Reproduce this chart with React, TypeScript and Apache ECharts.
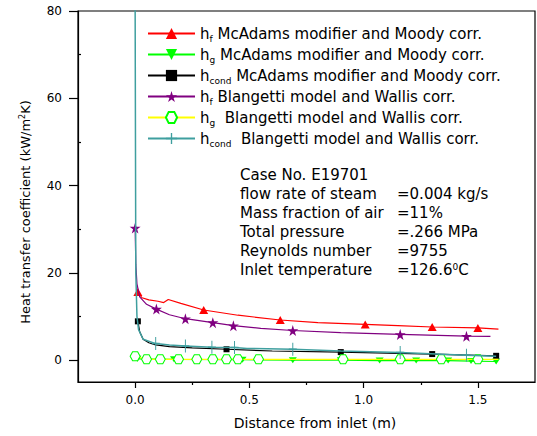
import React, { useEffect, useRef } from 'react';
import * as echarts from 'echarts';

const FONT = "'DejaVu Sans', 'Liberation Sans', sans-serif";

// [x (m), h (kW/m2K), marker shown (1) or not (0)]
const hfMcAdams: number[][] = [
  [0.012, 15.6, 1], [0.03, 14.3, 0], [0.06, 13.8, 0], [0.1, 13.5, 0], [0.125, 13.2, 0],
  [0.145, 13.9, 0], [0.2, 13.0, 0], [0.3, 11.5, 1], [0.45, 10.3, 0], [0.635, 9.2, 1],
  [0.8, 8.6, 0], [1.007, 8.2, 1], [1.15, 7.9, 0], [1.3, 7.6, 1], [1.5, 7.4, 1], [1.59, 7.1, 0],
];
const hgMcAdams: number[][] = [
  [0.01, 0.3, 1], [0.17, 0.2, 1], [0.47, 0.1, 1], [0.69, 0.0, 1], [0.9, 0.0, 1],
  [1.07, -0.1, 1], [1.23, -0.1, 1], [1.37, -0.1, 1], [1.47, -0.2, 1], [1.58, -0.3, 1],
];
const hcondMcAdams: number[][] = [
  [0.012, 8.9, 1], [0.02, 6.5, 0], [0.035, 4.8, 0], [0.06, 4.0, 0], [0.09, 3.5, 0],
  [0.15, 3.1, 0], [0.25, 2.8, 0], [0.4, 2.5, 1], [0.6, 2.1, 0], [0.9, 1.85, 1],
  [1.1, 1.6, 0], [1.3, 1.4, 1], [1.58, 1.0, 1],
];
const hfBlangetti: number[][] = [
  [0, 30.3, 1], [0.003, 22, 0], [0.008, 17.5, 0], [0.02, 14.5, 0], [0.05, 12.8, 0],
  [0.093, 11.7, 1], [0.15, 10.4, 0], [0.22, 9.5, 1], [0.34, 8.6, 1], [0.43, 7.9, 1],
  [0.55, 7.3, 0], [0.69, 6.8, 1], [0.9, 6.3, 0], [1.16, 5.9, 1], [1.45, 5.5, 1], [1.555, 5.45, 0],
];
const hgBlangetti: number[][] = [
  [0, 0.9, 1], [0.05, 0.2, 1], [0.11, 0.2, 1], [0.19, 0.2, 1], [0.27, 0.2, 1],
  [0.34, 0.2, 1], [0.4, 0.2, 1], [0.45, 0.2, 1], [0.54, 0.2, 1], [0.91, 0.2, 1],
  [1.16, 0.2, 1], [1.34, 0.2, 1], [1.5, 0.2, 1], [1.59, 0.2, 0],
];
const hcondBlangetti: number[][] = [
  [0, 82, 0], [0.003, 20, 0], [0.008, 10, 0], [0.015, 7, 0], [0.035, 4.8, 0],
  [0.09, 3.8, 1], [0.15, 3.5, 0], [0.22, 3.25, 1], [0.336, 2.95, 1], [0.435, 2.9, 1],
  [0.49, 2.7, 0], [0.69, 2.5, 1], [0.9, 2.1, 0], [1.16, 1.75, 1], [1.45, 1.15, 1], [1.58, 0.9, 0],
];

const legendSubs = ['f', 'g', 'cond', 'f', 'g', 'cond'];
const legendRests = [
  ' McAdams modifier and Moody corr.',
  ' McAdams modifier and Moody corr.',
  ' McAdams modifier and Moody corr.',
  ' Blangetti model and Wallis corr.',
  '  Blangetti model and Wallis corr.',
  '  Blangetti model and Wallis corr.',
];
const seriesNames = legendSubs.map((s, i) => 'h' + s + legendRests[i]);

const X_MIN = -0.25;
const X_MAX = 1.75;
const Y_MIN = -5;
const Y_MAX = 80;
const xMajorTicks = [0, 0.5, 1.0, 1.5];
const xMinorTicks = [0.25, 0.75, 1.25];
const yMajorTicks = [0, 20, 40, 60, 80];
const yMinorTicks = [10, 30, 50, 70];

const noteLabels = [
  'Case No. E19701',
  'flow rate of steam',
  'Mass fraction of air',
  'Total pressure',
  'Reynolds number',
  'Inlet temperature',
];
const noteValues = ['', '=0.004 kg/s', '=11%', '=.266 MPa', '=9755', '=126.6{sup|0}C'];

const STAR = 'path://M50 0 L61 35 L98 35 L68 57 L79 91 L50 70 L21 91 L32 57 L2 35 L39 35 Z';
const HEX = 'path://M25 0 L75 0 L100 43 L75 86 L25 86 L0 43 Z';
const PLUS = 'path://M44 0 H56 V44 H100 V56 H56 V100 H44 V56 H0 V44 H44 Z';

function toData(pts: number[][]) {
  return pts.map(([x, y, m]) => (m ? { value: [x, y] } : { value: [x, y], symbol: 'none' }));
}

export default function App() {
  const ref = useRef<HTMLDivElement>(null);
  useEffect(() => {
    if (!ref.current) return;
    const chart = echarts.init(ref.current, undefined, { renderer: 'svg' });
    const baseSeries = (
      idx: number,
      pts: number[][],
      lineColor: string,
      symbol: string,
      symbolSize: any,
      itemStyle: any,
      extra: any = {}
    ) => ({
      type: 'line',
      name: seriesNames[idx],
      data: toData(pts),
      symbol,
      symbolSize,
      showSymbol: true,
      lineStyle: { color: lineColor, width: 1.2 },
      itemStyle,
      z: 2 + idx,
      ...extra,
    });
    const graphics: any[] = [
      {
        type: 'text',
        x: 25,
        y: 212,
        rotation: Math.PI / 2,
        style: {
          text: 'Heat transfer coefficient (kW/m{sup|2}K)',
          fontFamily: FONT,
          fontSize: 13,
          fill: '#000',
          align: 'center',
          verticalAlign: 'middle',
          rich: { sup: { fontFamily: FONT, fontSize: 8, lineHeight: 8, verticalAlign: 'top', fill: '#000' } },
        },
      },
      {
        type: 'text',
        x: 315,
        y: 423,
        style: {
          text: 'Distance from inlet (m)',
          fontFamily: FONT,
          fontSize: 14,
          fill: '#000',
          align: 'center',
          verticalAlign: 'middle',
        },
      },
      ...noteLabels.map((t, i) => ({
        type: 'text',
        x: 240,
        y: 175 + i * 19,
        style: { text: t, fontFamily: FONT, fontSize: 15, fill: '#000', align: 'left', verticalAlign: 'middle' },
      })),
      ...noteValues
        .map((t, i) => ({ t, i }))
        .filter((o) => o.t)
        .map(({ t, i }) => ({
          type: 'text',
          x: 397,
          y: 175 + i * 19,
          style: {
            text: t,
            fontFamily: FONT,
            fontSize: 15,
            fill: '#000',
            align: 'left',
            verticalAlign: 'middle',
            rich: { sup: { fontFamily: FONT, fontSize: 9, lineHeight: 8, verticalAlign: 'top', fill: '#000' } },
          },
        })),
    ];
    const option: any = {
      animation: false,
      backgroundColor: '#fff',
      grid: { left: 78, right: 2, top: 11, bottom: 54, containLabel: false, show: true, borderColor: '#000', borderWidth: 1.2 },
      xAxis: [
        {
          type: 'value',
          min: X_MIN,
          max: X_MAX,
          axisLine: { show: true, onZero: false, lineStyle: { color: '#000', width: 1.2 } },
          axisTick: { show: true, length: 6, customValues: xMajorTicks, lineStyle: { color: '#000', width: 1.2 } },
          axisLabel: {
            customValues: xMajorTicks,
            formatter: (v: number) => v.toFixed(1),
            color: '#000',
            fontFamily: FONT,
            fontSize: 12,
            margin: 12,
          },
          splitLine: { show: false },
        },
        {
          type: 'value',
          min: X_MIN,
          max: X_MAX,
          position: 'bottom',
          axisLine: { show: false, onZero: false },
          axisTick: { show: true, length: 3, customValues: xMinorTicks, lineStyle: { color: '#000', width: 1.2 } },
          axisLabel: { show: false },
          splitLine: { show: false },
        },
      ],
      yAxis: [
        {
          type: 'value',
          min: Y_MIN,
          max: Y_MAX,
          axisLine: { show: true, onZero: false, lineStyle: { color: '#000', width: 1.2 } },
          axisTick: { show: true, length: 9, customValues: yMajorTicks, lineStyle: { color: '#000', width: 1.2 } },
          axisLabel: {
            customValues: yMajorTicks,
            color: '#000',
            fontFamily: FONT,
            fontSize: 12,
            margin: 16,
          },
          splitLine: { show: false },
        },
        {
          type: 'value',
          min: Y_MIN,
          max: Y_MAX,
          position: 'left',
          axisLine: { show: false, onZero: false },
          axisTick: { show: true, inside: true, length: 3, customValues: yMinorTicks, lineStyle: { color: '#000', width: 1.2 } },
          axisLabel: { show: false },
          splitLine: { show: false },
        },
      ],
      legend: {
        orient: 'vertical',
        left: 147,
        top: 26,
        padding: 0,
        itemGap: 3.5,
        itemWidth: 47,
        itemHeight: 14,
        selectedMode: false,
        data: seriesNames,
        formatter: (name: string) => {
          const i = seriesNames.indexOf(name);
          return '{m|h}{s|' + legendSubs[i] + '}{m|' + legendRests[i] + '}';
        },
        textStyle: {
          color: '#000',
          fontFamily: FONT,
          fontSize: 15,
          rich: {
            m: { fontFamily: FONT, fontSize: 15, lineHeight: 20, color: '#000' },
            s: { fontFamily: FONT, fontSize: 9, lineHeight: 8, verticalAlign: 'bottom', color: '#000' },
          },
        },
      },
      series: [
        baseSeries(0, hfMcAdams, '#ff0000', 'triangle', [9, 8], { color: '#ff0000' }),
        baseSeries(1, hgMcAdams, '#00ff00', 'triangle', [8, 6], { color: '#00ff00' }, { symbolRotate: 180 }),
        baseSeries(2, hcondMcAdams, '#000000', 'rect', 6, { color: '#000000' }),
        baseSeries(3, hfBlangetti, '#800080', STAR, 11, { color: '#800080' }),
        baseSeries(4, hgBlangetti, '#ffff00', HEX, [10, 9], { color: '#ffffff', borderColor: '#00ff00', borderWidth: 1 }),
        baseSeries(5, hcondBlangetti, '#3f9f9f', PLUS, [8, 13], { color: '#3f9f9f' }, { lineStyle: { color: '#3f9f9f', width: 1.5 } }),
      ],
      graphic: graphics,
    };
    chart.setOption(option);
    return () => chart.dispose();
  }, []);
  return <div ref={ref} style={{ position: 'absolute', left: 0, top: 0, width: 537, height: 436 }} />;
}
